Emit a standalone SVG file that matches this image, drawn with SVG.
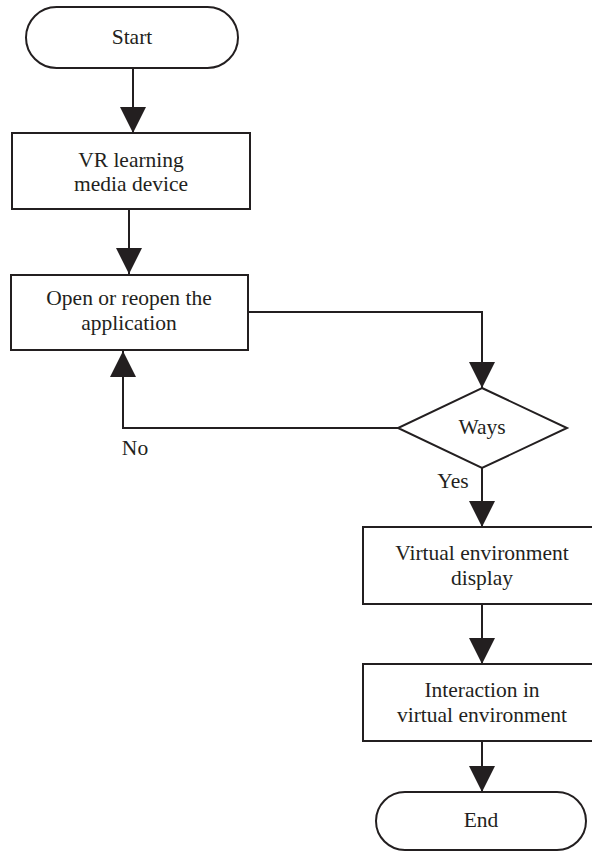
<svg xmlns="http://www.w3.org/2000/svg" width="592" height="852" viewBox="0 0 592 852">
<defs>
<style>
.n{fill:#fff;stroke:#231f20;stroke-width:2}
.c{fill:none;stroke:#231f20;stroke-width:2}
.t{font-family:"Liberation Serif","Times New Roman",serif;font-size:21.5px;fill:#231f20;text-anchor:middle}
</style>
<marker id="ah" viewBox="0 0 26 26" refX="26" refY="13" markerWidth="26" markerHeight="26" markerUnits="userSpaceOnUse" orient="auto">
<path d="M0,0 L26,13 L0,26 Z" fill="#231f20"/>
</marker>
</defs>
<g id="connectors">
<line class="c" x1="133" y1="68" x2="133" y2="133" marker-end="url(#ah)"/>
<line class="c" x1="129" y1="209" x2="129" y2="274" marker-end="url(#ah)"/>
<polyline class="c" points="248,312 482,312 482,388" marker-end="url(#ah)"/>
<polyline class="c" points="398,428 123,428 123,351" marker-end="url(#ah)"/>
<line class="c" x1="482" y1="468" x2="482" y2="527" marker-end="url(#ah)"/>
<line class="c" x1="482" y1="604" x2="482" y2="664" marker-end="url(#ah)"/>
<line class="c" x1="482" y1="741" x2="482" y2="792" marker-end="url(#ah)"/>
<text class="t" x="135" y="455">No</text>
<text class="t" x="453" y="488">Yes</text>
</g>
<g id="start">
<rect class="n" x="26" y="7" width="212" height="61" rx="30.5"/>
<text class="t" x="132" y="44">Start</text>
</g>
<g id="device">
<rect class="n" x="12" y="133" width="238" height="76"/>
<text class="t" x="131" y="167">VR learning</text>
<text class="t" x="131" y="191">media device</text>
</g>
<g id="open">
<rect class="n" x="11" y="275" width="237" height="75"/>
<text class="t" x="129" y="305">Open or reopen the</text>
<text class="t" x="129" y="330">application</text>
</g>
<g id="ways">
<polygon class="n" points="482,388 567,428 482,468 398,428"/>
<text class="t" x="482" y="434">Ways</text>
</g>
<g id="display">
<rect class="n" x="363" y="527" width="240" height="77"/>
<text class="t" x="482" y="560">Virtual environment</text>
<text class="t" x="482" y="585">display</text>
</g>
<g id="interaction">
<rect class="n" x="363" y="664" width="240" height="77"/>
<text class="t" x="482" y="697">Interaction in</text>
<text class="t" x="482" y="722">virtual environment</text>
</g>
<g id="end">
<rect class="n" x="376" y="792" width="210" height="58" rx="29"/>
<text class="t" x="481" y="827">End</text>
</g>
</svg>
